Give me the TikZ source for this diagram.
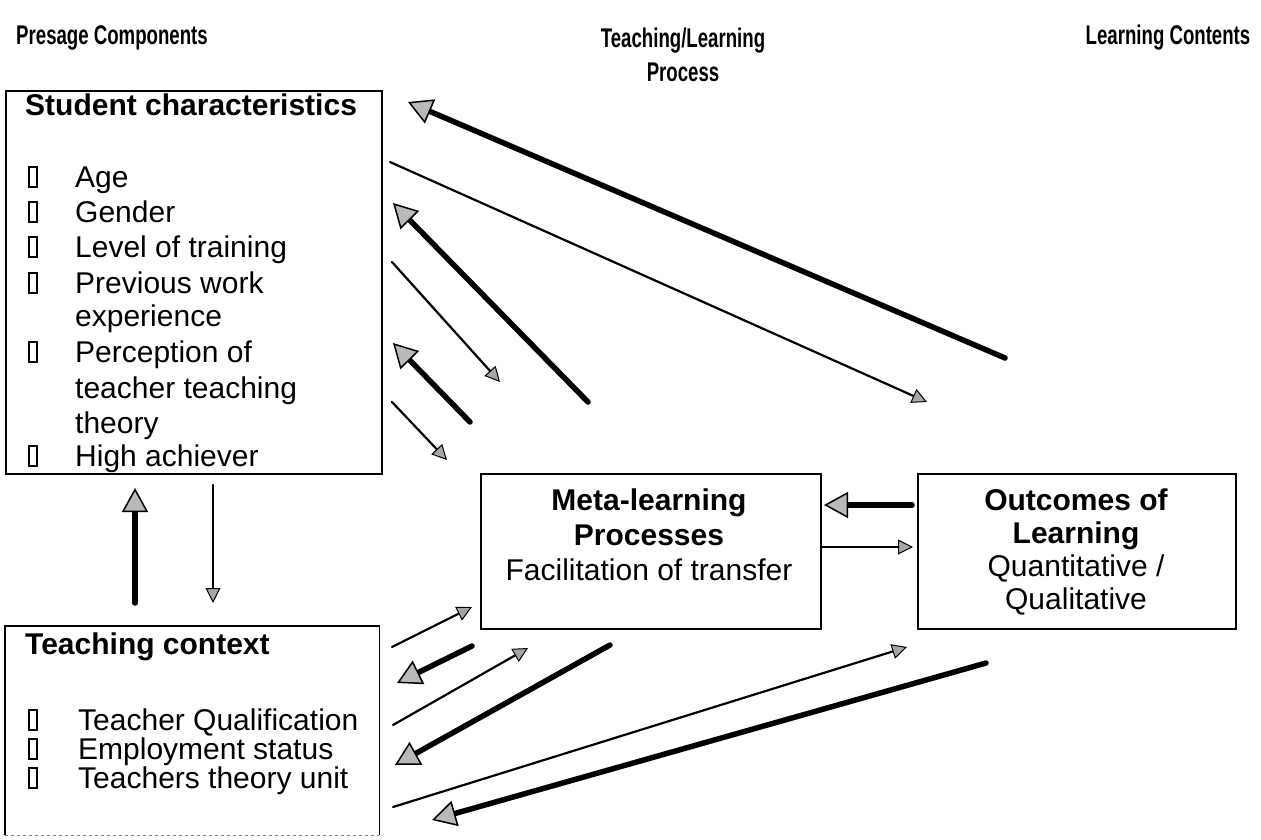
\documentclass[tikz,border=0pt]{standalone}
\usepackage{graphicx}
\usepackage{fontspec}
\setmainfont{Liberation Sans}
\usetikzlibrary{arrows.meta}

\newcommand{\narrow}[1]{\scalebox{0.69}[1]{#1}}

\begin{document}
\begin{tikzpicture}
  [x=1pt,y=-1pt,
   every node/.style={font=\fontsize{30}{35}\selectfont,inner sep=0pt},
   boldtxt/.style={font=\fontsize{30}{35}\selectfont\bfseries},
   headtxt/.style={font=\fontsize{27}{34}\selectfont\bfseries},
   item/.style={anchor=base west},
   boxline/.style={line width=1.6pt},
   tick/.style={draw,line width=2.2pt,minimum width=8pt,minimum height=20pt},
   heavy/.style={line width=5.5pt,line cap=round,
     -{Triangle[length=24pt,width=26pt,fill=gray!55,line width=1.5pt]}},
   light/.style={line width=2.2pt,line cap=round,
     -{Triangle[length=15pt,width=15pt,fill=gray!70,line width=1pt]}}]
 \useasboundingbox (0,0) rectangle (1261,839);

 % column headings
 \node[headtxt] (hpre) at (112,38) {\narrow{Presage Components}};
 \node[headtxt,align=center] (hproc) at (683,55) {\narrow{Teaching/Learning}\\\narrow{Process}};
 \node[headtxt] (hcont) at (1168,38) {\narrow{Learning Contents}};

 % boxes
 \node[draw,boxline,anchor=north west,minimum width=376pt,minimum height=383pt] (stu) at (5,90) {};
 \node[anchor=north west,minimum width=374pt,minimum height=209pt] (tea) at (5,626) {};
 \draw[boxline] (tea.south west) -- (tea.north west) -- (tea.north east) -- (tea.south east);
 \draw[boxline,gray,dashed] (tea.south west) -- (tea.south east);
 \node[draw,boxline,anchor=north west,minimum width=340pt,minimum height=155pt] (meta) at (480,473) {};
 \node[draw,boxline,anchor=north west,minimum width=318pt,minimum height=155pt] (out) at (917,473) {};

 % student characteristics
 \node[item,boldtxt] (st0) at (25,115) {Student characteristics};
 \node[item] (st1) at (75,187) {Age};
 \node[item] (st2) at (75,222) {Gender};
 \node[item] (st3) at (75,257) {Level of training};
 \node[item] (st4) at (75,293) {Previous work};
 \node[item] (st5) at (75,326) {experience};
 \node[item] (st6) at (75,362) {Perception of};
 \node[item] (st7) at (75,398) {teacher teaching};
 \node[item] (st8) at (75,433) {theory};
 \node[item] (st9) at (75,466) {High achiever};
 \foreach \y [count=\i] in {177,212,247,283,352,456}
   \node[tick] (sb\i) at (33,\y) {};

 % teaching context
 \node[item,boldtxt] (te0) at (25,654) {Teaching context};
 \node[item] (te1) at (78,730) {Teacher Qualification};
 \node[item] (te2) at (78,759) {Employment status};
 \node[item] (te3) at (78,788) {Teachers theory unit};
 \foreach \y [count=\i] in {720,749,778}
   \node[tick] (tb\i) at (33,\y) {};

 % middle and right boxes
 \node[align=center] (metatxt) at (649,535)
   {\textbf{Meta-learning}\\\textbf{Processes}\\Facilitation of transfer};
 \node[align=center,font=\fontsize{30}{33}\selectfont] (outtxt) at (1076,552)
   {\textbf{Outcomes of}\\\textbf{Learning}\\Quantitative /\\Qualitative};

 % arrow ends
 \coordinate (h1a) at (1005,358); \coordinate (h1b) at (408,102);
 \coordinate (h2a) at (588,402);  \coordinate (h2b) at (393,203);
 \coordinate (h3a) at (470,422);  \coordinate (h3b) at (393,343);
 \coordinate (h4a) at (135,603);  \coordinate (h4b) at (135,488);
 \coordinate (h5a) at (912,505);  \coordinate (h5b) at (824,505);
 \coordinate (h6a) at (472,646);  \coordinate (h6b) at (397,683);
 \coordinate (h7a) at (610,645);  \coordinate (h7b) at (395,765);
 \coordinate (h8a) at (986,663);  \coordinate (h8b) at (432,820);
 \coordinate (l1a) at (390,162);  \coordinate (l1b) at (927,402);
 \coordinate (l2a) at (392,262);  \coordinate (l2b) at (500,382);
 \coordinate (l3a) at (392,402);  \coordinate (l3b) at (447,460);
 \coordinate (l4a) at (213,485);  \coordinate (l4b) at (213,603);
 \coordinate (l5a) at (822,547);  \coordinate (l5b) at (913,547);
 \coordinate (l6a) at (392,647);  \coordinate (l6b) at (472,607);
 \coordinate (l7a) at (393,725);  \coordinate (l7b) at (528,648);
 \coordinate (l8a) at (393,807);  \coordinate (l8b) at (907,647);

 \foreach \from/\to in {h1a/h1b,h2a/h2b,h3a/h3b,h4a/h4b,h5a/h5b,h6a/h6b,h7a/h7b,h8a/h8b}
    \draw[heavy] (\from) -- (\to);
 \foreach \from/\to in {l1a/l1b,l2a/l2b,l3a/l3b,l4a/l4b,l5a/l5b,l6a/l6b,l7a/l7b,l8a/l8b}
    \draw[light] (\from) -- (\to);

\end{tikzpicture}
\end{document}
